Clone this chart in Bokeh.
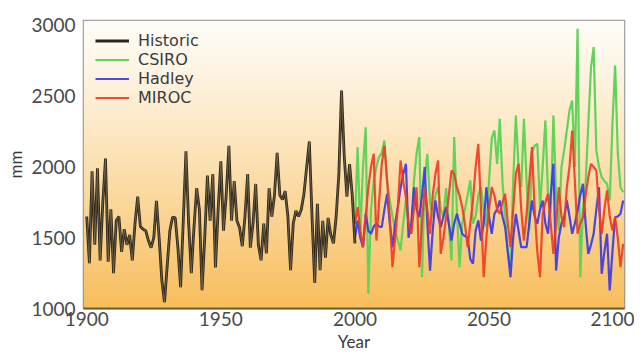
import numpy as np
from bokeh.plotting import figure
from bokeh.models import FixedTicker, Legend, LegendItem
from bokeh.embed import file_html
from bokeh.resources import INLINE

# ---------------- data ----------------
hist_years = list(range(1900, 2001))
historic = [
    1650, 1320, 1970, 1450, 1990, 1340, 1750, 2060, 1330, 1700,  # 1900-1909
    1250, 1620, 1650, 1400, 1560, 1450, 1520, 1340, 1600, 1790,  # 1910-1919
    1580, 1560, 1550, 1480, 1430, 1500, 1760, 1500, 1200, 1045,  # 1920-1929
    1300, 1550, 1645, 1640, 1430, 1150, 1620, 2110, 1600, 1250,  # 1930-1939
    1575, 1850, 1700, 1130, 1500, 1940, 1620, 1950, 1290, 1700,  # 1940-1949
    2040, 1550, 1800, 2150, 1620, 1900, 1620, 1570, 1440, 1650,  # 1950-1959
    1950, 1430, 1600, 1880, 1450, 1340, 1600, 1390, 1850, 1650,  # 1960-1969
    1800, 2100, 1800, 1770, 1830, 1650, 1270, 1600, 1690, 1650,  # 1970-1979
    1700, 1810, 2000, 2180, 1650, 1180, 1740, 1270, 1620, 1360,  # 1980-1989
    1640, 1520, 1460, 1650, 1950, 2540, 2080, 1790, 2020, 1800,  # 1990-1999
    1460,                                                        # 2000
]

proj_years = list(range(2000, 2101))
csiro = [
    1600, 2140, 1530, 2000, 2280, 1104, 1700, 1900, 2000, 2070,
    2100, 2187, 1900, 1763, 1650, 1551, 1480, 1410, 1600, 1763,
    1600, 1528, 1900, 2100, 2211, 1221, 1900, 2093, 1750, 1645,
    1800, 1857, 1700, 1645, 1850, 1600, 1339, 2211, 1700, 1292,
    1600, 1700, 1800, 1905, 1600, 1651, 1800, 1857, 1700, 1575,
    1900, 2200, 2258, 2022, 2340, 1900, 1645, 1400, 1292, 1900,
    2364, 2000, 1857, 2340, 1900, 1551, 2100, 2150, 2164, 1716,
    2000, 2329, 1800, 1669, 2364, 1800, 1551, 2000, 2117, 2258,
    2400, 2470, 2000, 2976, 1221, 1700, 1881, 2300, 2700, 2847,
    2117, 2000, 1928, 1900, 1881, 1763, 2300, 2717, 2100, 1857,
    1822,
]
hadley = [
    1500, 1622, 1500, 1433, 1669, 1550, 1528, 1580, 1598, 1580,
    1575, 1700, 1810, 1600, 1433, 1600, 1716, 1850, 1950, 2022,
    1500, 1600, 1857, 1700, 1645, 1800, 1999, 1600, 1268, 1550,
    1763, 1650, 1575, 1650, 1716, 1600, 1480, 1600, 1669, 1600,
    1528, 1510, 1504, 1350, 1316, 1550, 1622, 1480, 1600, 1857,
    1650, 1528, 1669, 1700, 1763, 1650, 1575, 1400, 1221, 1500,
    1669, 1550, 1433, 1433, 1433, 1600, 1763, 1650, 1598, 1700,
    1763, 1600, 1528, 1800, 2022, 1268, 1500, 1600, 1645, 1763,
    1650, 1528, 1600, 1692, 1800, 1881, 1600, 1386, 1450, 1528,
    1700, 1857, 1245, 1400, 1528, 1127, 1400, 1645, 1650, 1669,
    1763,
]
miroc = [
    1600, 1716, 1550, 1433, 1650, 1857, 2000, 2093, 1480, 1750,
    2022, 2150, 1900, 1645, 1292, 1500, 1716, 2046, 1900, 1787,
    1600, 1528, 1700, 1857, 1292, 1600, 1857, 1700, 1528, 1800,
    1950, 2046, 1386, 1500, 1645, 1800, 1975, 1950, 1857, 1800,
    1716, 1600, 1433, 1600, 1763, 2000, 2164, 1700, 1221, 1500,
    1700, 1857, 1800, 1700, 1669, 1750, 1810, 1600, 1433, 1700,
    1952, 2022, 1700, 1480, 1669, 1900, 2140, 1700, 1400, 1221,
    1669, 1750, 1810, 1600, 1386, 1600, 1857, 1650, 1575, 1857,
    2000, 2258, 1900, 1528, 1600, 1645, 1800, 1928, 2022, 2000,
    1975, 1700, 1528, 1700, 1834, 1650, 1551, 1645, 1500, 1292,
    1457,
]

x_ticks = [1900, 1950, 2000, 2050, 2100]
y_ticks = [1000, 1500, 2000, 2500, 3000]
series_names = ["Historic", "CSIRO", "Hadley", "MIROC"]
x_title = "Year"
y_title = "mm"

# ---------------- figure ----------------
X0, X1 = 1898.8, 2100.5
Y0, Y1 = 1000, 3035
FONT = "Lato"
W, H = 634, 356
BL, BR, BT, BB = 83, 10, 20, 48

p = figure(width=W, height=H, x_range=(X0, X1), y_range=(Y0, Y1),
           output_backend="svg", toolbar_location=None,
           min_border_left=BL, min_border_right=BR,
           min_border_top=BT, min_border_bottom=BB)

# vertical gradient background (white top -> orange bottom)
N = 256
t = np.linspace(0.0, 1.0, N)  # 0 = bottom, 1 = top
top = np.array([255, 253, 248], dtype=float)
bot = np.array([248, 190, 92], dtype=float)
w = (1.0 - t) ** 1.15
cols = top[None, :] * (1 - w[:, None]) + bot[None, :] * w[:, None]
img = np.empty((N, 1), dtype=np.uint32)
view = img.view(dtype=np.uint8).reshape((N, 1, 4))
view[:, 0, 0] = cols[:, 0].astype(np.uint8)
view[:, 0, 1] = cols[:, 1].astype(np.uint8)
view[:, 0, 2] = cols[:, 2].astype(np.uint8)
view[:, 0, 3] = 255
p.image_rgba(image=[img], x=X0, y=Y0, dw=X1 - X0, dh=Y1 - Y0, level="image")

p.grid.visible = False
p.background_fill_color = "white"
p.border_fill_color = "white"
p.outline_line_color = "#8c8c8c"
p.outline_line_width = 1.5

# lines
r_green = p.line(proj_years, csiro, line_color="#5fd35a", line_width=2.2)
r_blue = p.line(proj_years, hadley, line_color="#3535ee", line_width=2.2, line_alpha=0.9)
r_red = p.line(proj_years, miroc, line_color="#ee3a22", line_width=2.2, line_alpha=0.9)
r_hist = p.line(hist_years, historic, line_color="#2e271a", line_width=2.8)
p.line(hist_years, historic, line_color="#8f7f5e", line_width=0.8, line_alpha=0.8)

# axes
for ax in (p.xaxis, p.yaxis):
    ax.major_tick_line_color = None
    ax.minor_tick_line_color = None
    ax.major_tick_out = 0
    ax.major_tick_in = 0
    ax.minor_tick_out = 0
    ax.major_label_text_font = FONT
    ax.major_label_text_font_size = "19px"
    ax.major_label_text_color = "#4a4a4a"
    ax.axis_label_text_font = FONT
    ax.axis_label_text_font_size = "17px"
    ax.axis_label_text_font_style = "normal"
    ax.axis_label_text_color = "#3a3a3a"

p.xaxis.ticker = FixedTicker(ticks=x_ticks)
p.yaxis.ticker = FixedTicker(ticks=y_ticks)
p.xaxis.axis_label = x_title
p.yaxis.axis_label = y_title
p.xaxis.axis_line_color = "#6e5c2c"
p.xaxis.axis_line_width = 2
p.yaxis.axis_line_color = None
p.xaxis.major_label_standoff = 3
p.xaxis.axis_label_standoff = 2
p.yaxis.major_label_standoff = 8
p.yaxis.axis_label_standoff = 2

# legend: one single-item legend per row, for tight 19px row spacing
frame_h = H - BT - BB
renderers = [r_hist, r_green, r_blue, r_red]
for i, (name, r) in enumerate(zip(series_names, renderers)):
    lg = Legend(items=[LegendItem(label=name, renderers=[r])],
                location=(12, int(frame_h - 30 - 19 * i)))
    lg.background_fill_alpha = 0
    lg.border_line_color = None
    lg.label_text_font = "DejaVu Sans"
    lg.label_text_font_size = "16px"
    lg.label_text_color = "#3a3a3a"
    lg.label_height = 19
    lg.glyph_height = 19
    lg.glyph_width = 34
    lg.label_standoff = 9
    lg.padding = 0
    lg.margin = 0
    p.add_layout(lg)

open("out.html", "w").write(file_html(p, INLINE))
